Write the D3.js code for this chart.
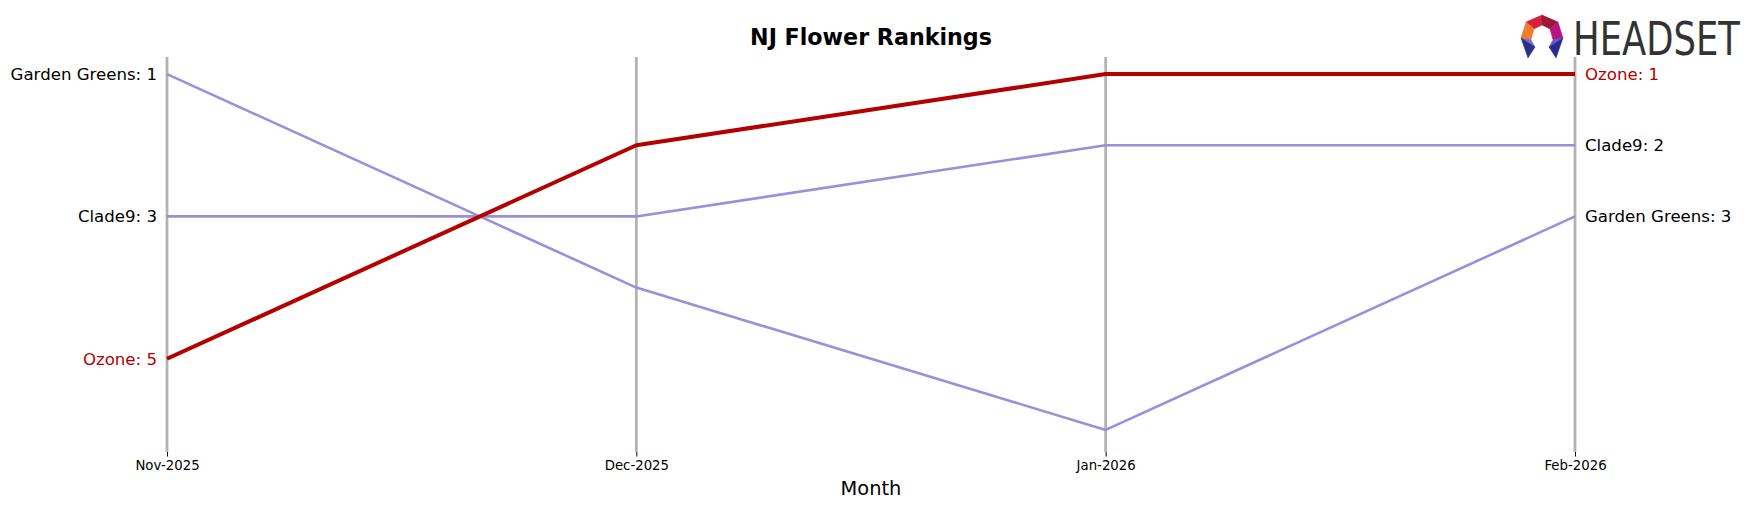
<!DOCTYPE html>
<html>
<head>
<meta charset="utf-8">
<script src="https://cdn.jsdelivr.net/npm/d3@7"></script>
<style>
  html, body { margin: 0; padding: 0; background: #fff; }
  svg { display: block; }
  text { font-family: "DejaVu Sans", sans-serif; }
</style>
</head>
<body>
<svg id="chart" width="1756" height="507"></svg>
<script>
const months = ["Nov-2025", "Dec-2025", "Jan-2026", "Feb-2026"];
const brands = ["Garden Greens", "Clade9", "Ozone"];
const gardenGreens = [1, 4, 6, 3];
const clade9 = [3, 3, 2, 2];
const ozone = [5, 2, 1, 1];
const highlight = "Ozone";

const seriesList = [
  { name: "Garden Greens", values: gardenGreens },
  { name: "Clade9", values: clade9 },
  { name: "Ozone", values: ozone }
];

const W = 1756, H = 507;
const svg = d3.select("#chart");

const x = d3.scalePoint().domain(months).range([167, 1575]);
const y = d3.scaleLinear().domain([0.76, 6.31]).range([57, 452]);

const hiColor = "#b30000";
const loColor = "#9b8fd9";

// vertical month lines
svg.append("g").selectAll("line").data(months).join("line")
  .attr("x1", d => x(d)).attr("x2", d => x(d))
  .attr("y1", y.range()[0]).attr("y2", y.range()[1])
  .attr("stroke", "#b3b3b3").attr("stroke-width", 2.8);

// bottom axis (ticks + labels only)
const xAxis = d3.axisBottom(x).tickSize(4.5).tickPadding(4);
const ax = svg.append("g").attr("transform", `translate(0,${y.range()[1]})`).call(xAxis);
ax.select(".domain").remove();
ax.selectAll(".tick line").attr("stroke", "#000").attr("stroke-width", 1);
ax.selectAll(".tick text").attr("font-size", 13.3).attr("fill", "#000")
  .attr("font-family", "DejaVu Sans, sans-serif");

// lines
const line = d3.line().x((d, i) => x(months[i])).y(d => y(d));
const order = seriesList.filter(s => s.name !== highlight).concat(seriesList.filter(s => s.name === highlight));
svg.append("g").selectAll("path").data(order).join("path")
  .attr("d", d => line(d.values))
  .attr("fill", "none")
  .attr("stroke", d => d.name === highlight ? hiColor : loColor)
  .attr("stroke-width", d => d.name === highlight ? 4 : 2.6)
  .attr("stroke-linejoin", "round");

// left labels
svg.append("g").selectAll("text").data(seriesList).join("text")
  .attr("x", x(months[0]) - 10)
  .attr("y", d => y(d.values[0]))
  .attr("dy", "0.35em")
  .attr("text-anchor", "end")
  .attr("font-size", 16.6)
  .attr("fill", d => d.name === highlight ? hiColor : "#000")
  .text(d => `${d.name}: ${d.values[0]}`);

// right labels
const last = months.length - 1;
svg.append("g").selectAll("text").data(seriesList).join("text")
  .attr("x", x(months[last]) + 10)
  .attr("y", d => y(d.values[last]))
  .attr("dy", "0.35em")
  .attr("text-anchor", "start")
  .attr("font-size", 16.6)
  .attr("fill", d => d.name === highlight ? hiColor : "#000")
  .text(d => `${d.name}: ${d.values[last]}`);

// title
svg.append("text")
  .attr("x", (x.range()[0] + x.range()[1]) / 2).attr("y", 37)
  .attr("dy", "0.35em")
  .attr("text-anchor", "middle")
  .attr("font-size", 22.2).attr("font-weight", "bold")
  .text("NJ Flower Rankings");

// x axis title
svg.append("text")
  .attr("x", (x.range()[0] + x.range()[1]) / 2).attr("y", 488)
  .attr("dy", "0.35em")
  .attr("text-anchor", "middle")
  .attr("font-size", 19.4)
  .text("Month");

// logo
const logo = svg.append("g");
const P = {
  T: [1542, 15], UR: [1558, 22], R: [1563, 38], UL: [1526, 22], L: [1521, 38],
  IT: [1542, 25], IUR: [1550, 29], IR: [1553, 40], IUL: [1534, 29], IL: [1531, 40],
  BLm: [1535, 47], BL: [1528, 58], BRm: [1549, 47], BR: [1556, 58]
};
const polys = [
  [["T", "IT", "IUL", "UL"], "#d4213c"],
  [["T", "UR", "IUR", "IT"], "#9a1a36"],
  [["UR", "R", "IR", "IUR"], "#b8157f"],
  [["UL", "IUL", "IL", "L"], "#f07d2c"],
  [["L", "IL", "BLm"], "#6d6be0"],
  [["L", "BLm", "BL"], "#2b2f85"],
  [["R", "IR", "BRm"], "#5a5bd6"],
  [["R", "BRm", "BR"], "#2a2e8a"]
];
logo.selectAll("polygon").data(polys).join("polygon")
  .attr("points", d => d[0].map(k => P[k].join(",")).join(" "))
  .attr("fill", d => d[1]).attr("stroke", d => d[1]).attr("stroke-width", 0.5);
logo.append("text")
  .attr("x", 1573).attr("y", 55)
  .attr("font-family", "Liberation Sans Narrow, DejaVu Sans Condensed, sans-serif")
  .attr("font-size", 46)
  .attr("fill", "#333333")
  .attr("textLength", 167).attr("lengthAdjust", "spacingAndGlyphs")
  .text("HEADSET");
</script>
</body>
</html>
